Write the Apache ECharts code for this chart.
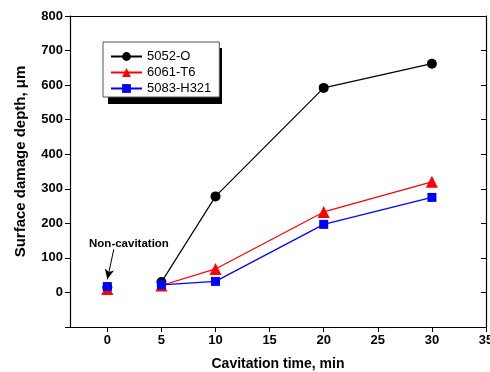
<!DOCTYPE html>
<html><head><meta charset="utf-8">
<script src="https://cdn.jsdelivr.net/npm/echarts@6/dist/echarts.min.js"></script>
<style>html,body{margin:0;padding:0;background:#fff}#c{width:490px;height:372px}</style>
</head><body><div id="c"></div>
<script>
const times = [0, 5, 10, 20, 30];
const s5052 = [15, 30, 278, 592, 662];
const s6061 = [10, 20, 68, 233, 320];
const s5083 = [17, 22, 32, 197, 275];
const xTicks = [0, 5, 10, 15, 20, 25, 30, 35];
const seriesNames = ['5052-O', '6061-T6', '5083-H321'];
const annotText = 'Non-cavitation';
const annotAt = [2.0, 140];
const arrowFrom = [0.6, 125];
const arrowTo = [0, 38];

const chart = echarts.init(document.getElementById('c'));
// the non-cavitation point (t = 0) is not joined to the cavitation curve
const pair = (ys) => {
  const out = [];
  times.forEach((t, i) => {
    out.push([t, ys[i]]);
    if (t === 0) out.push([t, '-']);
  });
  return out;
};
const font = 'Arial, "Liberation Sans", sans-serif';
chart.setOption({
  animation: false,
  grid: {left: 70, right: 4, top: 16, bottom: 45, outerBoundsMode: 'none', containLabel: false},
  graphic: [{
    type: 'rect', left: 108, top: 48, z: 0, silent: true,
    shape: {width: 114, height: 56}, style: {fill: '#000'}
  }],
  legend: {
    orient: 'vertical', left: 103, top: 42, padding: [8, 8, 2, 7], z: 10,
    itemGap: 3, itemWidth: 31, itemHeight: 11,
    backgroundColor: '#fff', borderColor: '#555', borderWidth: 1,
    textStyle: {fontFamily: font, fontSize: 13, lineHeight: 13, color: '#000'},
    data: seriesNames
  },
  xAxis: [{
    type: 'value', min: -3.45, max: 35,
    name: 'Cavitation time, min', nameLocation: 'middle', nameGap: 30,
    nameTextStyle: {fontFamily: font, fontSize: 14, fontWeight: 'bold', color: '#000'},
    axisLine: {show: true, onZero: false, lineStyle: {color: '#000', width: 1.2}},
    axisTick: {show: true, length: 5, customValues: xTicks, lineStyle: {color: '#000'}},
    axisLabel: {customValues: xTicks, fontFamily: font, fontSize: 13, fontWeight: 'bold', color: '#000', margin: 7},
    splitLine: {show: false}
  }, {
    type: 'value', min: -3.45, max: 35, position: 'top',
    axisLine: {show: true, onZero: false, lineStyle: {color: '#000', width: 1.2}},
    axisTick: {show: false}, axisLabel: {show: false}, splitLine: {show: false}
  }],
  yAxis: [{
    type: 'value', min: -100, max: 800, interval: 100,
    name: 'Surface damage depth, \u03bcm', nameLocation: 'middle', nameGap: 42,
    nameTextStyle: {fontFamily: font, fontSize: 15, fontWeight: 'bold', color: '#000', padding: [0, 0, 0, 20]},
    axisLine: {show: true, onZero: false, lineStyle: {color: '#000', width: 1.2}},
    axisTick: {show: true, length: 5, lineStyle: {color: '#000'}},
    axisLabel: {fontFamily: font, fontSize: 13, fontWeight: 'bold', color: '#000', margin: 7,
      formatter: v => v < 0 ? '' : String(v)},
    splitLine: {show: false}
  }, {
    type: 'value', min: -100, max: 800, interval: 100, position: 'right',
    axisLine: {show: true, onZero: false, lineStyle: {color: '#000', width: 1.2}},
    axisTick: {show: true, inside: true, length: 5, lineStyle: {color: '#000'}},
    axisLabel: {show: false}, splitLine: {show: false}
  }],
  series: [
    {name: seriesNames[0], type: 'line', data: pair(s5052), color: '#000', connectNulls: false,
     symbol: 'circle', symbolSize: 10, lineStyle: {width: 1.2, color: '#000'}, z: 3,
     markLine: {silent: true, symbol: ['none', 'arrow'], symbolSize: [7, 10],
       lineStyle: {color: '#000', width: 1, type: 'solid'}, label: {show: false},
       data: [[{coord: arrowFrom}, {coord: arrowTo}]]},
     markPoint: {silent: true, symbol: 'rect', symbolSize: 0,
       label: {show: true, formatter: annotText, fontFamily: font, fontSize: 11.5, fontWeight: 'bold', color: '#000'},
       data: [{coord: annotAt}]}},
    {name: seriesNames[1], type: 'line', data: pair(s6061), color: '#ff0000', connectNulls: false,
     symbol: 'triangle', symbolSize: 12, lineStyle: {width: 1.2, color: '#ff0000'}, z: 4},
    {name: seriesNames[2], type: 'line', data: pair(s5083), color: '#0000ff', connectNulls: false,
     symbol: 'rect', symbolSize: 9, lineStyle: {width: 1.2, color: '#0000ff'}, z: 5}
  ]
});
</script></body></html>
